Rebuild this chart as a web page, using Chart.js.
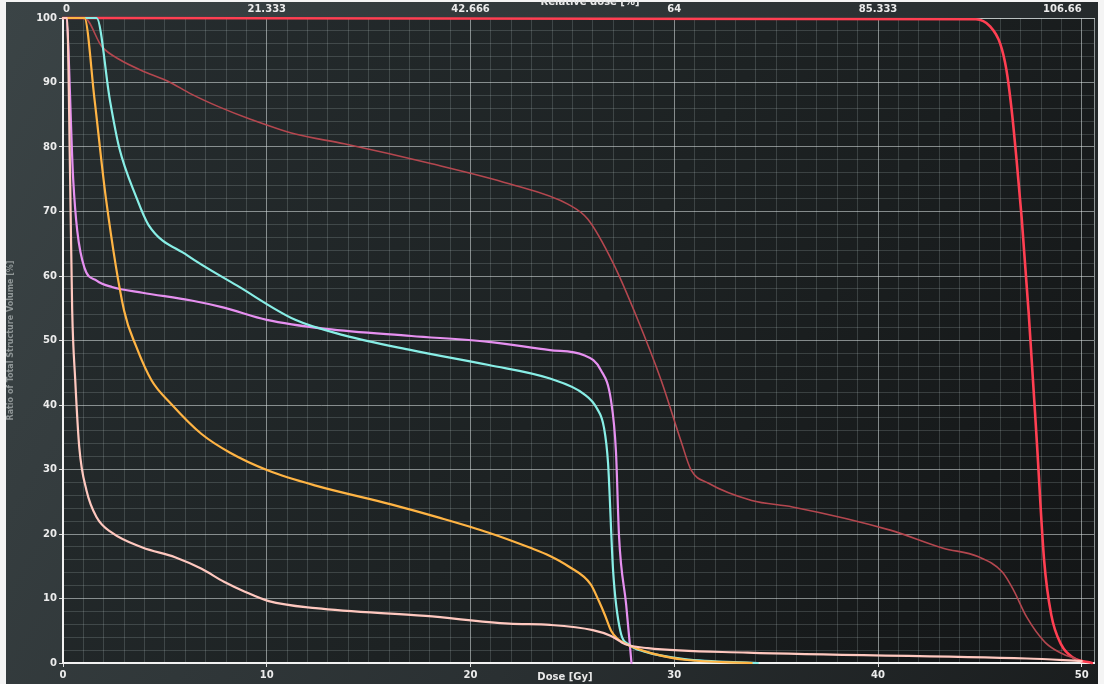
<!DOCTYPE html>
<html>
<head>
<meta charset="utf-8">
<title>DVH</title>
<script src="https://cdn.jsdelivr.net/npm/chart.js@4.4.0/dist/chart.umd.min.js"></script>
<style>
    html, body { margin: 0; padding: 0; background: #f4f4f4; }
    #wrap { width: 1104px; height: 684px; position: relative; }
</style>
</head>
<body>
<div id="wrap"><canvas id="dvh" width="1104" height="684"></canvas></div>
<script>
// axis ranges
var doseMax = 50.6;
var prescription = 46.875; // Gy at 100 % relative dose
var relTicks = [0, 21.333, 42.666, 64, 85.333, 106.66];
var relLabels = ["0", "21.333", "42.666", "64", "85.333", "106.66"];

// dose [Gy] / volume [%] per structure
var ptvDose = [0, 44.8, 45.5, 46.0, 46.3, 46.55, 46.8, 47.05, 47.4, 47.8, 48.15, 48.5, 49.0, 49.6, 50.5];
var ptvVol = [100, 99.8, 98.7, 96, 92, 86, 78, 69, 54, 34, 16, 7.5, 2.8, 0.8, 0];

var brownDose = [0, 1.05, 1.9, 2.75, 4.05, 5.15, 6.3, 7.6, 9.2, 11.4, 13.8, 18.1, 21.9, 24.8, 25.76, 27.0, 28.2, 29.36, 30.34, 30.83, 31.66, 33.8, 35.8, 40.6, 43.2, 44.9, 46.1, 46.65, 47.3, 48.2, 49.0, 49.75];
var brownVol = [100, 100, 95.6, 93.6, 91.6, 90.2, 88.2, 86.3, 84.3, 82, 80.5, 77.4, 74.3, 71.1, 68.8, 62.0, 53.3, 43.8, 34.3, 29.9, 27.9, 25.2, 24.2, 20.6, 17.8, 16.5, 14.1, 11.3, 7.1, 3.2, 1.5, 0.6];

var cyanDose = [0, 1.65, 2.3, 2.75, 3.6, 4.2, 6.1, 8.55, 11.4, 13.8, 17.1, 20.9, 23.9, 25.57, 26.2, 26.55, 26.75, 27.0, 27.35, 27.8, 28.5, 30.5, 34.1];
var cyanVol = [100, 100, 87.3, 80, 72.2, 67.9, 63.2, 58.5, 53.2, 50.8, 48.5, 46.2, 44.1, 41.7, 39.5, 36.5, 31, 14.2, 5.0, 2.8, 1.8, 0.6, 0];

var magDose = [0, 0.15, 0.5, 0.7, 1.05, 1.65, 2.4, 3.9, 6.3, 7.9, 10, 12.9, 17.1, 20.9, 23.9, 25.57, 26.4, 26.9, 27.14, 27.29, 27.64, 27.9];
var magVol = [100, 100, 75, 67, 61.3, 59.3, 58.3, 57.4, 56.2, 55.1, 53.2, 51.8, 50.7, 49.8, 48.5, 47.7, 45.4, 40.6, 32.7, 19.6, 9.0, 0];

var orDose = [0, 1.05, 1.55, 2.1, 3.0, 3.6, 4.35, 5.3, 6.8, 8.2, 10.1, 12.4, 16.1, 18.5, 20.9, 22.9, 23.9, 24.8, 25.9, 26.3, 26.6, 26.9, 27.2, 27.6, 28.2, 28.9, 30.5, 33.8];
var orVol = [100, 100, 87.3, 72.2, 54.6, 49, 43.8, 40.2, 35.5, 32.6, 29.8, 27.5, 24.6, 22.5, 20.2, 17.9, 16.6, 15.0, 12.2, 9.6, 7.4, 5.0, 3.8, 3.0, 2.2, 1.5, 0.5, 0];

var salDose = [0, 0.2, 0.35, 0.45, 0.6, 0.8, 1.15, 1.65, 2.4, 3.9, 5.5, 6.8, 7.9, 8.9, 10.1, 12.4, 17.8, 21.9, 23.9, 26.0, 26.9, 27.6, 28.7, 33.6, 47.3, 50.0];
var salVol = [100, 100, 75, 54.8, 43.9, 33.4, 26.8, 22.6, 20.2, 17.9, 16.4, 14.6, 12.6, 11.1, 9.6, 8.5, 7.3, 6.1, 5.9, 5.1, 4.2, 2.9, 2.3, 1.6, 0.7, 0.3];

function pts(xs, ys) {
    var out = [];
    for (var i = 0; i < xs.length; i++) out.push({ x: xs[i], y: ys[i] });
    return out;
}

function curve(xs, ys, color, width) {
    return {
        data: pts(xs, ys),
        borderColor: color,
        borderWidth: width,
        cubicInterpolationMode: "monotone",
        pointRadius: 0,
        borderCapStyle: "round",
        borderJoinStyle: "round",
        clip: 4,
        fill: false,
    };
}

function isMajor(v) {
    return Math.abs(v - Math.round(v / 10) * 10) < 1e-6;
}

var majorGrid = "rgba(220,228,228,0.55)";
var minorGrid = "rgba(190,205,205,0.2)";
var tickFont = { family: "DejaVu Sans", size: 10, weight: "bold" };

var backdrop = {
    id: "backdrop",
    beforeDraw: function (chart) {
        var c = chart.ctx, a = chart.chartArea;
        c.save();
        var g = c.createLinearGradient(0, 0, chart.width, chart.height);
        g.addColorStop(0, "#3b4446");
        g.addColorStop(0.6, "#2a3032");
        g.addColorStop(1, "#1a1d1e");
        c.fillStyle = g;
        c.fillRect(6, 2, chart.width - 12, chart.height - 2);
        var g2 = c.createLinearGradient(a.left, a.top, a.right, a.bottom);
        g2.addColorStop(0, "#262d2f");
        g2.addColorStop(0.5, "#1d2223");
        g2.addColorStop(1, "#131516");
        c.fillStyle = g2;
        c.fillRect(a.left, a.top, a.right - a.left, a.bottom - a.top);
        c.restore();
    },
    afterDraw: function (chart) {
        var c = chart.ctx, a = chart.chartArea;
        c.save();
        // right frame line
        c.strokeStyle = "rgba(220,228,228,0.6)";
        c.lineWidth = 1;
        c.beginPath();
        c.moveTo(a.right + 0.5, a.top);
        c.lineTo(a.right + 0.5, a.bottom);
        c.stroke();
        // axis captions that sit on the tick label rows
        c.fillStyle = "#e8e8e8";
        c.font = "bold 10px 'DejaVu Sans'";
        c.textAlign = "center";
        c.textBaseline = "middle";
        c.fillText("Relative dose [%]", 590, 2);
        c.fillText("Dose [Gy]", 565, 677);
        c.restore();
    },
};

var ctx = document.getElementById("dvh").getContext("2d");

new Chart(ctx, {
    type: "line",
    data: {
        datasets: [
            curve(salDose, salVol, "#ffc8bf", 2.2),
            curve(orDose, orVol, "#ffb444", 2.2),
            curve(cyanDose, cyanVol, "#88eee6", 2.2),
            curve(magDose, magVol, "#e690f0", 2.2),
            curve(brownDose, brownVol, "#b4474f", 1.6),
            curve(ptvDose, ptvVol, "#ff3f52", 2.6),
        ],
    },
    options: {
        responsive: false,
        animation: false,
        layout: { padding: { left: 6, right: 10, top: 0, bottom: 0 } },
        plugins: {
            legend: { display: false },
            tooltip: { enabled: false },
        },
        scales: {
            x: {
                type: "linear",
                position: "bottom",
                min: 0,
                max: doseMax,
                afterFit: function (s) { s.height = 21; },
                border: { color: "#f2f2f2", width: 2 },
                grid: {
                    color: function (c) { return c.tick && isMajor(c.tick.value) ? majorGrid : minorGrid; },
                    tickColor: function (c) { return c.tick && isMajor(c.tick.value) ? "#e0e0e0" : "rgba(0,0,0,0)"; },
                    tickLength: 4,
                },
                ticks: {
                    stepSize: 1,
                    autoSkip: false,
                    includeBounds: false,
                    maxRotation: 0,
                    color: "#ececec",
                    font: tickFont,
                    padding: 2,
                    callback: function (v) { return isMajor(v) ? String(Math.round(v)) : ""; },
                },
            },
            x2: {
                type: "linear",
                position: "top",
                min: 0,
                max: doseMax * 100 / prescription,
                afterFit: function (s) { s.height = 18; },
                afterBuildTicks: function (s) {
                    s.ticks = relTicks.map(function (v) { return { value: v }; });
                },
                border: { color: "rgba(220,228,228,0.6)", width: 1 },
                grid: { display: false, drawTicks: false },
                ticks: {
                    autoSkip: false,
                    maxRotation: 0,
                    align: "inner",
                    color: "#ececec",
                    font: tickFont,
                    padding: 3,
                    callback: function (v, i) { return relLabels[i]; },
                },
            },
            y: {
                type: "linear",
                min: 0,
                max: 100,
                afterFit: function (s) { s.width = 57; },
                border: { color: "#f2f2f2", width: 2 },
                grid: {
                    color: function (c) { return c.tick && isMajor(c.tick.value) ? majorGrid : minorGrid; },
                    tickColor: function (c) { return c.tick && isMajor(c.tick.value) ? "#e0e0e0" : "rgba(0,0,0,0)"; },
                    tickLength: 4,
                },
                ticks: {
                    stepSize: 2,
                    autoSkip: false,
                    color: "#ececec",
                    font: tickFont,
                    padding: 2,
                    callback: function (v) { return isMajor(v) ? String(Math.round(v)) : ""; },
                },
                title: {
                    display: true,
                    text: "Ratio of Total Structure Volume [%]",
                    color: "rgba(215,220,220,0.55)",
                    font: { family: "DejaVu Sans", size: 8, weight: "bold" },
                    padding: { top: 0, bottom: 0 },
                },
            },
        },
    },
    plugins: [backdrop],
});
</script>
</body>
</html>
